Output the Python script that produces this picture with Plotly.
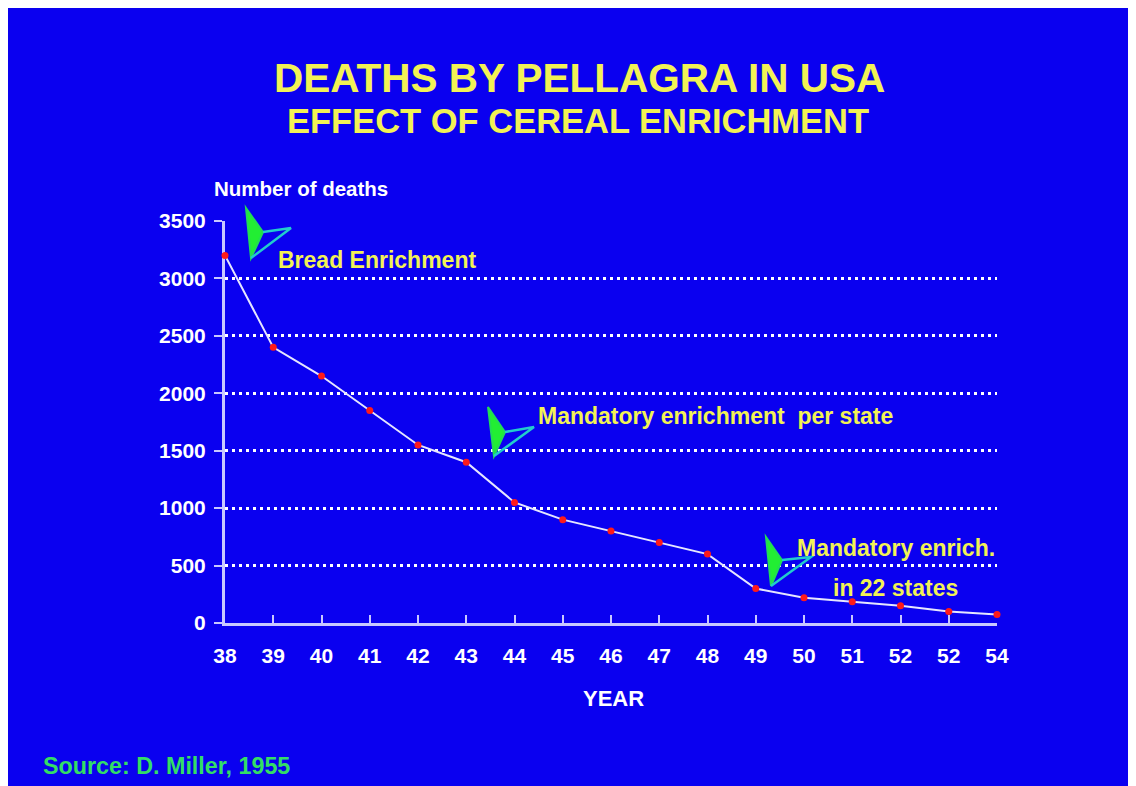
import plotly.graph_objects as go

# ---- data ----
year_labels = ["38", "39", "40", "41", "42", "43", "44", "45", "46", "47",
               "48", "49", "50", "51", "52", "52", "54"]
deaths = [3200, 2400, 2150, 1850, 1550, 1400, 1050, 900, 800, 700,
          600, 300, 220, 185, 150, 100, 75]
y_ticks = [0, 500, 1000, 1500, 2000, 2500, 3000, 3500]

W, H = 1136, 786
OFF = 8  # page body margin
L, R, T, B = 225 - OFF, 997 - OFF, 221 - OFF, 623 - OFF  # plot area in figure pixels

BLUE = "#0A00F0"
FONT = "Liberation Sans"
YELLOW = "#F2F255"
AXIS = "#C8C8FF"

def px(x):
    # x given in screen pixels of the reference
    return (x - OFF - L) / (R - L)

def py(y):
    return (B - (y - OFF)) / (B - T)

x_idx = list(range(len(year_labels)))

fig = go.Figure()
fig.add_trace(go.Scatter(
    x=x_idx, y=deaths, mode="lines+markers",
    line=dict(color="#E6E6FF", width=2),
    marker=dict(color="#FF1A1A", size=7),
    cliponaxis=False, showlegend=False,
))

shapes = []
arrows = [
    # top, notch, right, tip (reference pixels)
    [(246, 208), (263, 232), (291, 228), (251, 258)],
    [(488, 407), (505, 432), (534, 427), (494, 456)],
    [(766, 537), (782, 560), (811, 557), (771, 586)],
]
for top, notch, right, tip in arrows:
    p1 = "M {} {} L {} {} L {} {} Z".format(px(top[0]), py(top[1]), px(notch[0]), py(notch[1]),
                                           px(tip[0]), py(tip[1]))
    shapes.append(dict(type="path", xref="paper", yref="paper", path=p1,
                       fillcolor="#22EE33", line=dict(color="#22DD55", width=2)))
    p2 = "M {} {} L {} {} L {} {}".format(px(notch[0]), py(notch[1]), px(right[0]), py(right[1]),
                                         px(tip[0]), py(tip[1]))
    shapes.append(dict(type="path", xref="paper", yref="paper", path=p2,
                       line=dict(color="#22CCCC", width=2.5)))

def ann(text, x, y, size, color, xanchor="center"):
    return dict(text=text, x=px(x), y=py(y), xref="paper", yref="paper",
                xanchor=xanchor, yanchor="middle", showarrow=False,
                font=dict(family=FONT, size=size, color=color, weight="bold"))

annotations = [
    ann("DEATHS BY PELLAGRA IN USA", 579, 78, 40.5, YELLOW),
    ann("EFFECT OF CEREAL ENRICHMENT", 578, 121, 34.5, YELLOW),
    ann("Number of deaths", 212, 188, 20.5, "white", "left"),
    ann("Bread Enrichment", 276, 260, 23, YELLOW, "left"),
    ann("Mandatory enrichment  per state", 536, 416, 23, YELLOW, "left"),
    ann("Mandatory enrich.", 795, 548, 23, YELLOW, "left"),
    ann("in 22 states", 831, 588, 23, YELLOW, "left"),
    ann("YEAR", 613, 698, 22, "white"),
    ann("Source: D. Miller, 1955", 41, 766, 23.3, "#33DD66", "left"),
]

fig.update_layout(
    width=W, height=H,
    margin=dict(l=L, r=W - R, t=T, b=H - B, pad=0),
    paper_bgcolor=BLUE,
    plot_bgcolor=BLUE,
    shapes=shapes,
    annotations=annotations,
    xaxis=dict(
        range=[0, len(year_labels) - 1],
        tickvals=x_idx, ticktext=year_labels,
        showgrid=False, zeroline=False,
        showline=True, linecolor=AXIS, linewidth=3,
        ticks="inside", ticklen=8, tickwidth=2, tickcolor=AXIS,
        ticklabelstandoff=12,
        tickfont=dict(family=FONT, size=21, color="white", weight="bold"),
        layer="below traces",
        fixedrange=True,
    ),
    yaxis=dict(
        range=[0, 3500],
        tickvals=y_ticks,
        showgrid=True, gridcolor="white", gridwidth=2.5, griddash="3px,4px",
        zeroline=False,
        showline=True, linecolor=AXIS, linewidth=3,
        ticks="outside", ticklen=8, tickwidth=2, tickcolor=AXIS,
        ticklabelstandoff=4,
        tickfont=dict(family=FONT, size=21, color="white", weight="bold"),
        layer="below traces",
        fixedrange=True,
    ),
)

fig.write_html("out.html")
